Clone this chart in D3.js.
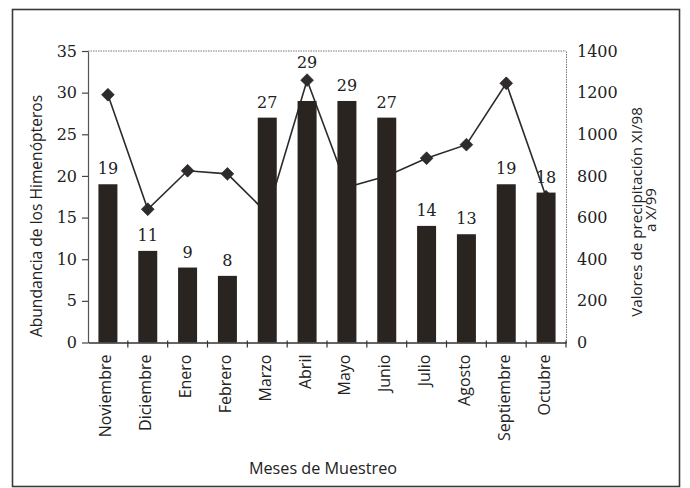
<!DOCTYPE html>
<html>
<head>
<meta charset="utf-8">
<script src="https://cdn.jsdelivr.net/npm/d3@7/dist/d3.min.js"></script>
<style>
  html, body { margin: 0; padding: 0; background: #ffffff; }
  svg { display: block; }
</style>
</head>
<body>
<svg id="chart" width="690" height="488"></svg>
<script>
const months = ["Noviembre","Diciembre","Enero","Febrero","Marzo","Abril","Mayo","Junio","Julio","Agosto","Septiembre","Octubre"];
const abundance = [19, 11, 9, 8, 27, 29, 29, 27, 14, 13, 19, 18];
const precipitation = [1190, 640, 825, 810, 620, 1260, 745, 800, 885, 950, 1245, 700];
const leftTicks = [0, 5, 10, 15, 20, 25, 30, 35];
const rightTicks = [0, 200, 400, 600, 800, 1000, 1200, 1400];
const xTitle = "Meses de Muestreo";
const yLeftTitle = "Abundancia de los Himenópteros";
const yRightTitle = ["Valores de precipitación XI/98", "a X/99"];

const svg = d3.select("#chart");
const W = 690, H = 488;
const plot = { left: 88, right: 566, top: 51, bottom: 342.5 };
const ink = "#2a2420";
const numFont = "'DejaVu Serif', serif";
const txtFont = "'Open Sans', 'DejaVu Sans', sans-serif";

svg.append("rect").attr("width", W).attr("height", H).attr("fill", "#ffffff");
svg.append("rect").attr("x", 12.5).attr("y", 9.5).attr("width", 667).attr("height", 477)
  .attr("fill", "none").attr("stroke", "#3a3a3a").attr("stroke-width", 1.6);

const x = d3.scaleBand().domain(months).range([plot.left, plot.right])
  .paddingInner(0.523).paddingOuter(0.2615);
const yL = d3.scaleLinear().domain([0, 35]).range([plot.bottom, plot.top]);
const yR = d3.scaleLinear().domain([0, 1400]).range([plot.bottom, plot.top]);
const step = x.step();
const xc = d => x(d) + x.bandwidth() / 2;

// top dotted frame line
svg.append("line").attr("x1", plot.left).attr("x2", plot.right)
  .attr("y1", plot.top).attr("y2", plot.top)
  .attr("stroke", "#777").attr("stroke-width", 1).attr("stroke-dasharray", "1.5,1");

// left axis
const gL = svg.append("g").attr("transform", `translate(${plot.left},0)`)
  .call(d3.axisLeft(yL).tickValues(leftTicks).tickSize(6).tickSizeOuter(0).tickPadding(5));
gL.select(".domain").attr("stroke", "#555").attr("stroke-width", 1.2);
gL.selectAll(".tick line").attr("stroke", "#444").attr("stroke-width", 1.2);
gL.selectAll("text").attr("font-family", numFont).attr("font-size", 16).attr("fill", "#222");

// right axis
const gR = svg.append("g").attr("transform", `translate(${plot.right},0)`)
  .call(d3.axisRight(yR).tickValues(rightTicks).tickFormat(d3.format("d"))
    .tickSize(0).tickSizeOuter(0).tickPadding(11));
gR.select(".domain").attr("stroke", "#777").attr("stroke-width", 1).attr("stroke-dasharray", "1.5,1");
gR.selectAll("text").attr("font-family", numFont).attr("font-size", 16).attr("fill", "#222");

// bottom axis with month labels
const gB = svg.append("g").attr("transform", `translate(0,${plot.bottom})`)
  .call(d3.axisBottom(x).tickSize(0).tickSizeOuter(0).tickPadding(0));
gB.select(".domain").attr("stroke", "#333").attr("stroke-width", 1.4);
gB.selectAll(".tick text")
  .attr("font-family", txtFont).attr("font-size", 16).attr("fill", "#222")
  .attr("text-anchor", "end")
  .attr("transform", "translate(3.5,12) rotate(-90)")
  .attr("dy", "0");
// boundary tick marks between categories
const bounds = months.map((d, i) => x(d) + x.bandwidth() + step * x.paddingInner() / 2);
gB.selectAll(".bound").data(bounds).enter().append("line")
  .attr("x1", d => d).attr("x2", d => d).attr("y1", -2).attr("y2", 5)
  .attr("stroke", "#333").attr("stroke-width", 1.2);

// value labels (under line)
const labelY = (v, i) => {
  const top = yL(v);
  const dY = yR(precipitation[i]);
  if (dY < top - 8 && dY > top - 40) return dY - 12.5;
  return top - 10;
};
svg.append("g").selectAll("text").data(abundance).enter().append("text")
  .attr("x", (d, i) => xc(months[i]))
  .attr("y", (d, i) => labelY(d, i))
  .attr("text-anchor", "middle")
  .attr("font-family", numFont).attr("font-size", 16).attr("fill", "#222")
  .text(d => d);

// precipitation line
const line = d3.line().x((d, i) => xc(months[i])).y(d => yR(d));
svg.append("path").datum(precipitation).attr("d", line)
  .attr("fill", "none").attr("stroke", "#2b2b2b").attr("stroke-width", 1.6);
svg.append("g").selectAll("path").data(precipitation).enter().append("path")
  .attr("d", d3.symbol(d3.symbolSquare, 82)())
  .attr("transform", (d, i) => `translate(${xc(months[i])},${yR(d)}) rotate(45)`)
  .attr("fill", "#2e2b2a").attr("stroke", "#222").attr("stroke-width", 0.6);

// bars (on top of line)
svg.append("g").selectAll("rect").data(abundance).enter().append("rect")
  .attr("x", (d, i) => x(months[i]))
  .attr("width", x.bandwidth())
  .attr("y", d => yL(d))
  .attr("height", d => yL(0) - yL(d))
  .attr("fill", ink);

// titles
svg.append("text").attr("x", 323).attr("y", 474).attr("text-anchor", "middle")
  .attr("font-family", txtFont).attr("font-size", 16.2).attr("fill", "#222").text(xTitle);
svg.append("text").attr("transform", "translate(42,216) rotate(-90)").attr("text-anchor", "middle")
  .attr("font-family", txtFont).attr("font-size", 15.6).attr("fill", "#222").text(yLeftTitle);
svg.append("text").attr("transform", "translate(642,212) rotate(-90)").attr("text-anchor", "middle")
  .attr("font-family", txtFont).attr("font-size", 15.2).attr("fill", "#222").text(yRightTitle[0]);
svg.append("text").attr("transform", "translate(656,210) rotate(-90)").attr("text-anchor", "middle")
  .attr("font-family", txtFont).attr("font-size", 15.2).attr("fill", "#222").text(yRightTitle[1]);
</script>
</body>
</html>
